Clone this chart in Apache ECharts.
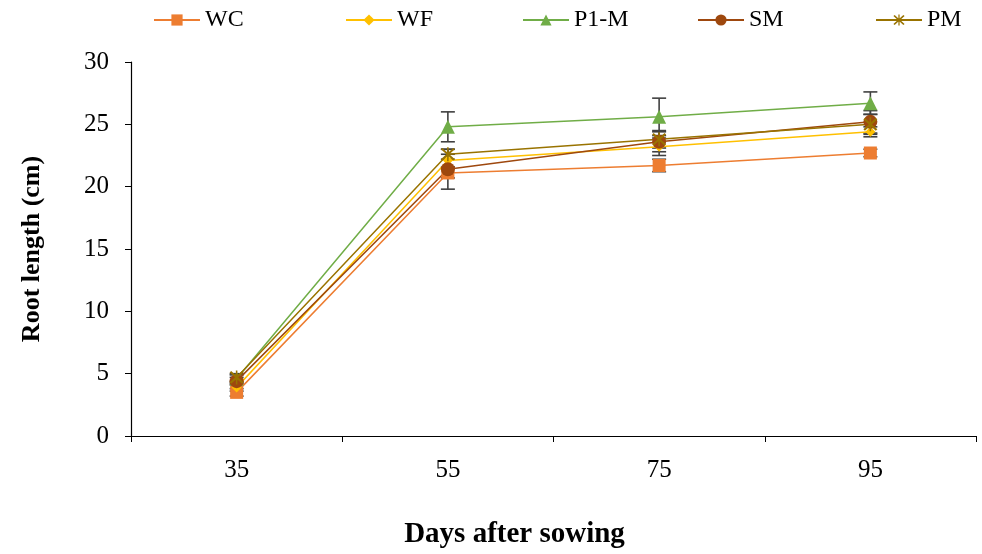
<!DOCTYPE html>
<html>
<head>
<meta charset="utf-8">
<script src="https://cdn.jsdelivr.net/npm/echarts@6/dist/echarts.min.js"></script>
<style>html,body{margin:0;padding:0;background:#fff;}#c{width:982px;height:554px;}</style>
</head>
<body>
<div id="c"></div>
<script>
const categories = ['35', '55', '75', '95'];
const seriesNames = ['WC', 'WF', 'P1-M', 'SM', 'PM'];
const wcValues = [3.5, 21.1, 21.7, 22.7];
const wfValues = [3.9, 22.1, 23.2, 24.4];
const p1mValues = [4.6, 24.8, 25.6, 26.7];
const smValues = [4.4, 21.4, 23.6, 25.2];
const pmValues = [4.7, 22.6, 23.8, 25.0];
const wcErr = [0.3, 0.4, 0.5, 0.3];
const wfErr = [0.3, 0.5, 0.7, 0.4];
const p1mErr = [0.3, 1.2, 1.5, 0.9];
const smErr = [0.3, 1.6, 0.8, 0.9];
const pmErr = [0.3, 0.4, 0.7, 0.8];

const colors = ['#ED7D31', '#FFC000', '#70AD47', '#9E480E', '#997300'];
const starPath = 'path://M9,0 L11,0 L11,20 L9,20 Z M1,3 L3,1 L19,17 L17,19 Z M17,1 L19,3 L3,19 L1,17 Z';
const symbols = ['rect', 'diamond', 'triangle', 'circle', starPath];
const symbolSizes = [13, 10, 14, 14, 14];
const values = [wcValues, wfValues, p1mValues, smValues, pmValues];
const errs = [wcErr, wfErr, p1mErr, smErr, pmErr];
const FONT = '"Liberation Serif", "Times New Roman", serif';

const chart = echarts.init(document.getElementById('c'));

const lineSeries = seriesNames.map((n, i) => ({
  name: n,
  type: 'line',
  data: values[i],
  symbol: symbols[i],
  symbolSize: symbolSizes[i],
  showAllSymbol: true,
  lineStyle: { color: colors[i], width: 1.5 },
  itemStyle: { color: colors[i] },
  z: 3,
  animation: false
}));

const errSeries = seriesNames.map((n, i) => ({
  type: 'custom',
  name: n + '-err',
  data: values[i].map((v, j) => [j, v - errs[i][j], v + errs[i][j]]),
  renderItem: function (params, api) {
    const x = api.value(0);
    const lo = api.coord([x, api.value(1)]);
    const hi = api.coord([x, api.value(2)]);
    const hw = 7;
    const st = { stroke: '#404040', lineWidth: 1.6 };
    return {
      type: 'group',
      children: [
        { type: 'line', shape: { x1: lo[0], y1: lo[1], x2: hi[0], y2: hi[1] }, style: st },
        { type: 'line', shape: { x1: lo[0] - hw, y1: lo[1], x2: lo[0] + hw, y2: lo[1] }, style: st },
        { type: 'line', shape: { x1: hi[0] - hw, y1: hi[1], x2: hi[0] + hw, y2: hi[1] }, style: st }
      ]
    };
  },
  z: 2,
  silent: true,
  animation: false
}));

const legendLefts = [148, 340, 517, 692, 870];
const legends = seriesNames.map((n, i) => ({
  data: [n],
  left: legendLefts[i],
  top: 3,
  itemWidth: 46,
  itemHeight: 14,
  itemGap: 4,
  textStyle: { fontFamily: FONT, fontSize: 24, color: '#000' },
  selectedMode: false
}));

chart.setOption({
  backgroundColor: '#fff',
  animation: false,
  color: colors,
  legend: legends,
  grid: { left: 131, right: 6, top: 62, bottom: 104, containLabel: false },
  xAxis: {
    type: 'category',
    data: categories,
    boundaryGap: true,
    axisLine: { lineStyle: { color: '#000', width: 1.2 } },
    axisTick: { show: true, length: 6, inside: false, lineStyle: { color: '#000' }, alignWithLabel: false },
    axisLabel: { fontFamily: FONT, fontSize: 25, color: '#000', margin: 22 },
    name: 'Days after sowing',
    nameLocation: 'middle',
    nameGap: 84,
    nameTextStyle: { fontFamily: FONT, fontSize: 29, fontWeight: 'bold', color: '#000', padding: [0, 78, 0, 0] },
    splitLine: { show: false }
  },
  yAxis: {
    type: 'value',
    min: 0, max: 30, interval: 5,
    axisLine: { show: true, lineStyle: { color: '#000', width: 1.2 } },
    axisTick: { show: true, length: 6, lineStyle: { color: '#000' } },
    axisLabel: { fontFamily: FONT, fontSize: 25, color: '#000', margin: 22 },
    splitLine: { show: false },
    name: 'Root length (cm)',
    nameLocation: 'middle',
    nameGap: 86,
    nameRotate: 90,
    nameTextStyle: { fontFamily: FONT, fontSize: 26, fontWeight: 'bold', color: '#000' }
  },
  series: errSeries.concat(lineSeries)
});
</script>
</body>
</html>
